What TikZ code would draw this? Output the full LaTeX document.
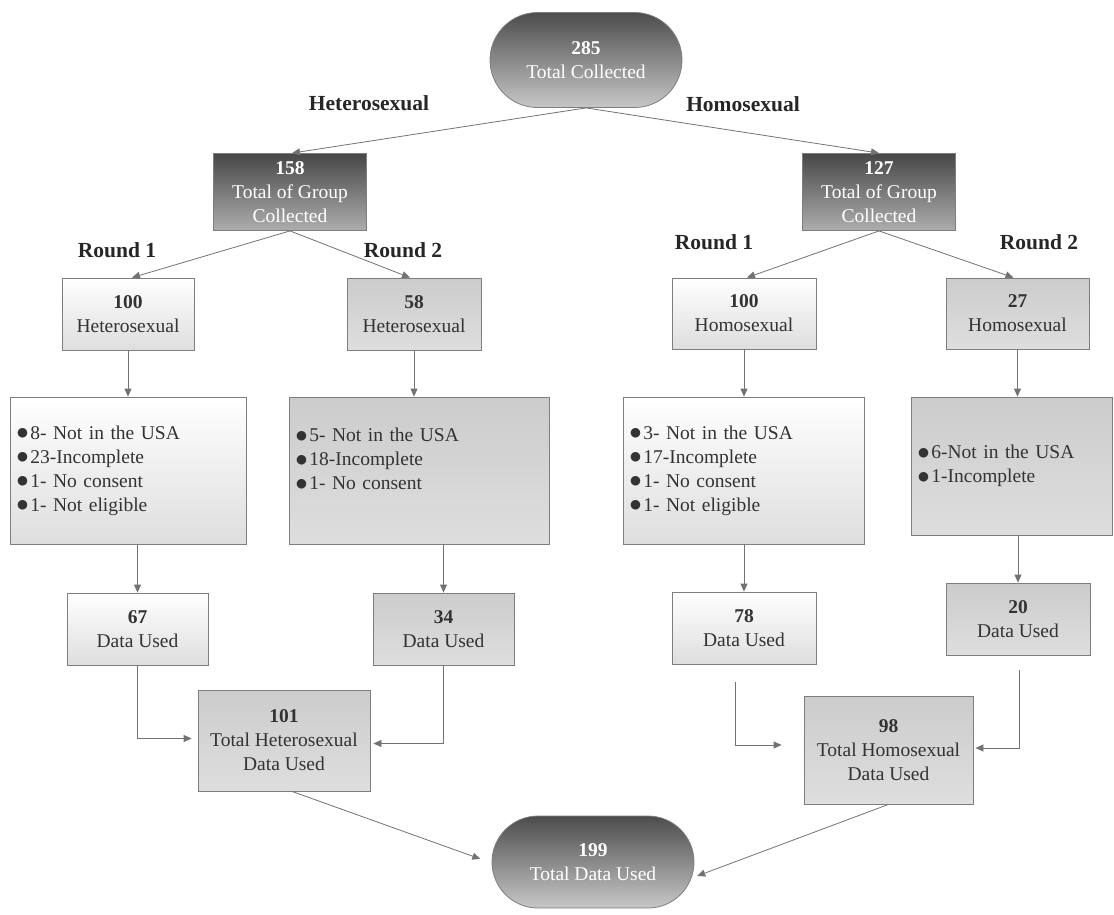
\documentclass[tikz,border=0pt]{standalone}
\usepackage{fontspec}
\setmainfont{Liberation Serif}
\newfontfamily\dejavu{DejaVu Sans}
\usetikzlibrary{arrows.meta,shapes.misc,calc}
\definecolor{txt}{HTML}{333333}
\definecolor{edge}{HTML}{727272}
\definecolor{bord}{HTML}{7E7E7E}
\newcommand\bul{\raisebox{2.2pt}{\dejavu\fontsize{12.5}{12}\selectfont ●}\hspace{2.5pt}}
\begin{document}
\begin{tikzpicture}[x=1pt,y=-1pt,
  every node/.style={font=\fontsize{19.5}{24}\selectfont, text=txt, inner sep=0pt},
  term/.style={rounded rectangle, draw=bord, line width=0.8pt, top color=black!70, bottom color=black!22, text=white, align=center},
  darkbox/.style={rectangle, draw=bord, line width=0.8pt, top color=black!72, bottom color=black!32, text=white, align=center},
  lightbox/.style={rectangle, draw=bord, line width=0.8pt, top color=white, bottom color=black!13, align=center},
  graybox/.style={rectangle, draw=bord, line width=0.8pt, top color=black!20, bottom color=black!13, align=center},
  lbl/.style={font=\fontsize{21.5}{24}\selectfont\bfseries, text=black!85},
  arr/.style={draw=edge, line width=0.8pt, -{Triangle[length=8pt,width=7pt]}},
  plain/.style={draw=edge, line width=0.8pt}
]
\useasboundingbox (0,0) rectangle (1114,914);

% top
\node[term, minimum width=192pt, minimum height=95pt] (tot) at (586,60) {\textbf{285}\\Total Collected};
\node[lbl] (lhet) at (369,103) {Heterosexual};
\node[lbl] (lhom) at (743,104) {Homosexual};

\node[darkbox, minimum width=153pt, minimum height=77pt] (g1) at (290,192) {\textbf{158}\\Total of Group\\Collected};
\node[darkbox, minimum width=153pt, minimum height=77pt] (g2) at (879,192) {\textbf{127}\\Total of Group\\Collected};

\node[lbl] (r1a) at (117,250) {Round 1};
\node[lbl] (r2a) at (403,250) {Round 2};
\node[lbl] (r1b) at (714,242) {Round 1};
\node[lbl] (r2b) at (1039,242) {Round 2};

% second row
\node[lightbox, minimum width=132pt, minimum height=72pt] (a1) at (128,314) {\textbf{100}\\Heterosexual};
\node[graybox, minimum width=134pt, minimum height=72pt] (a2) at (414,314) {\textbf{58}\\Heterosexual};
\node[lightbox, minimum width=144pt, minimum height=71pt] (a3) at (744,313.5) {\textbf{100}\\Homosexual};
\node[graybox, minimum width=143pt, minimum height=71pt] (a4) at (1017.5,313.5) {\textbf{27}\\Homosexual};

% exclusion boxes
\node[lightbox, minimum width=236pt, minimum height=147pt, text width=222pt, align=left] (e1) at (128,470.5)
  {\bul 8- Not in the USA\\\bul 23-Incomplete\\\bul 1- No consent\\\bul 1- Not eligible};
\node[graybox, minimum width=260pt, minimum height=147pt, text width=246pt, align=left] (e2) at (419,470.5)
  {\bul 5- Not in the USA\\\bul 18-Incomplete\\\bul 1- No consent\\\mbox{}};
\node[lightbox, minimum width=241pt, minimum height=147pt, text width=227pt, align=left] (e3) at (743.5,470.5)
  {\bul 3- Not in the USA\\\bul 17-Incomplete\\\bul 1- No consent\\\bul 1- Not eligible};
\node[graybox, minimum width=201pt, minimum height=138pt, text width=187pt, align=left] (e4) at (1011.5,466)
  {\bul 6-Not in the USA\\\bul 1-Incomplete};

% data used
\node[lightbox, minimum width=141pt, minimum height=72pt] (d1) at (137.5,629) {\textbf{67}\\Data Used};
\node[graybox, minimum width=141pt, minimum height=72pt] (d2) at (443.5,629) {\textbf{34}\\Data Used};
\node[lightbox, minimum width=144pt, minimum height=72pt] (d3) at (744,628) {\textbf{78}\\Data Used};
\node[graybox, minimum width=144pt, minimum height=72pt] (d4) at (1018,619) {\textbf{20}\\Data Used};

% totals
\node[graybox, minimum width=172pt, minimum height=101pt] (s1) at (284,740.5) {\textbf{101}\\Total Heterosexual\\Data Used};
\node[graybox, minimum width=169pt, minimum height=108pt] (s2) at (888.5,750) {\textbf{98}\\Total Homosexual\\Data Used};

\node[term, minimum width=202pt, minimum height=92pt] (fin) at (593,862) {\textbf{199}\\Total Data Used};

\coordinate (c3) at (735,682);
\coordinate (c4) at (1019,670);

% connectors
\draw[arr] (tot.south) -- ([xshift=2pt]g1.north);
\draw[arr] (tot.south) -- (g2.north);
\draw[arr] (g1.south) -- ([xshift=4pt]a1.north);
\draw[arr] (g1.south) -- ([xshift=-4pt]a2.north);
\draw[arr] (g2.south) -- ([xshift=3pt]a3.north);
\draw[arr] (g2.south) -- ([xshift=-4pt]a4.north);

\draw[arr] (a1.south) -- (e1.north);
\draw[arr] (a2.south) -- (a2.south |- e2.north);
\draw[arr] (a3.south) -- (a3.south |- e3.north);
\draw[arr] (a4.south) -- (a4.south |- e4.north);

\draw[arr] (e1.south -| d1.north) -- (d1.north);
\draw[arr] (e2.south -| d2.north) -- (d2.north);
\draw[arr] (e3.south -| d3.north) -- (d3.north);
\draw[arr] (e4.south -| d4.north) -- (d4.north);

\draw[arr, shorten >=6pt] (d1.south) |- ([yshift=2pt]s1.west);
\draw[arr, shorten >=3pt] (d2.south) |- ([yshift=-3pt]s1.east);
\draw[arr, shorten >=22pt] (c3) |- ([yshift=5pt]s2.west);
\draw[arr, shorten >=2pt] (c4) |- ([yshift=2pt]s2.east);

\draw[arr, shorten >=12pt] ([xshift=8pt]s1.south) -- ([yshift=-1pt]fin.west);
\draw[arr, shorten >=3pt] (s2.south) -- ([yshift=-15pt]fin.east);
\end{tikzpicture}
\end{document}
